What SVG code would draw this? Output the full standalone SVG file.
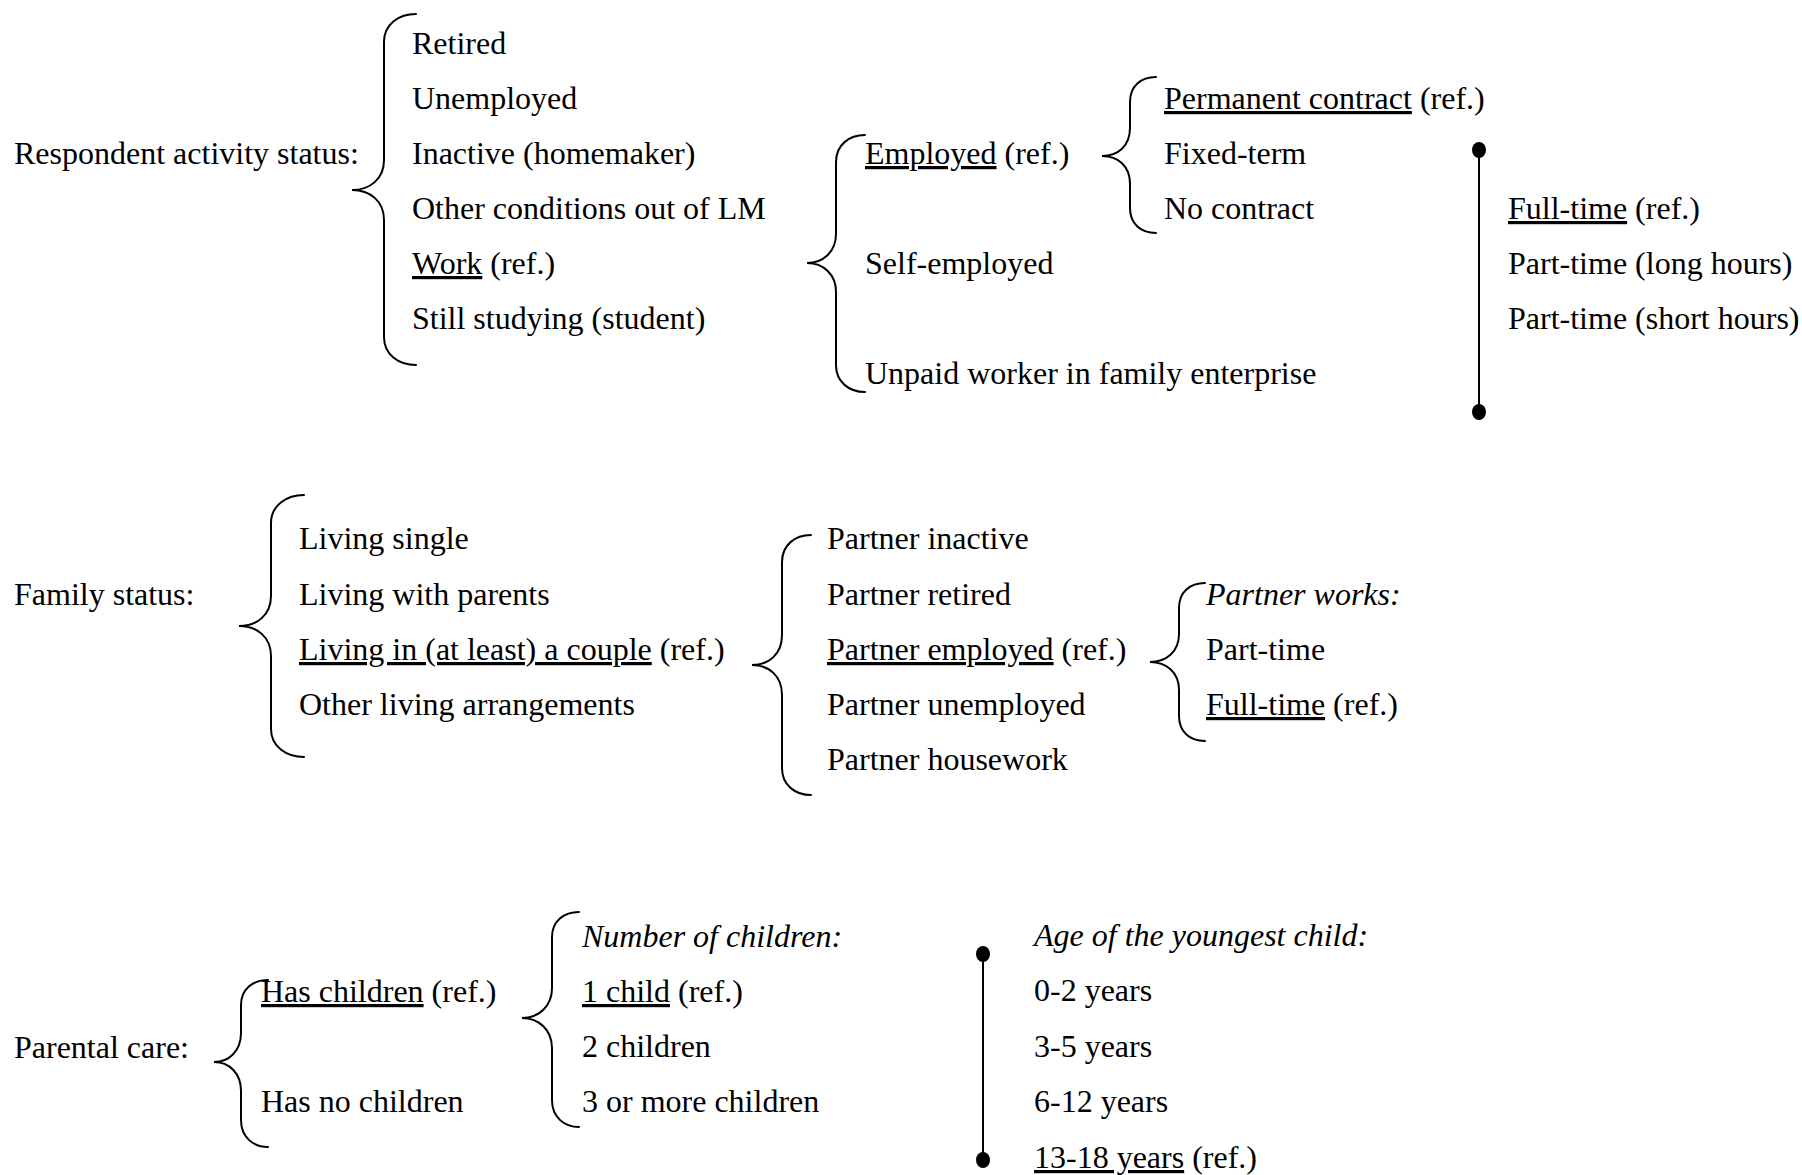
<svg xmlns="http://www.w3.org/2000/svg" width="1802" height="1175" viewBox="0 0 1802 1175">
<style>
text{font-family:"Liberation Serif","Times New Roman",serif;font-size:32px;fill:#000}
.i{font-style:italic}
.u{text-decoration:underline}
.br{fill:none;stroke:#000;stroke-width:2;stroke-linecap:round}
.ln{stroke:#000;stroke-width:2}
</style>
<rect width="1802" height="1175" fill="#fff"/>
<g id="connectors">
<path class="br" d="M416,14 C399,14 384,24 384,42 L384,160 C384,179 370,190 352,190 C370,190 384,201 384,220 L384,337 C384,355 399,365 416,365"/>
<path class="br" d="M865,135 C849,135 836,145 836,162 L836,234 C836,252 823,263 807,263 C823,263 836,274 836,292 L836,365 C836,382 849,392 865,392"/>
<path class="br" d="M1156,77 C1141,77 1130,86 1130,102 L1130,128 C1130,146 1118,156 1102,156 C1118,156 1130,166 1130,184 L1130,208 C1130,224 1141,233 1156,233"/>
<path class="br" d="M304,495 C287,495 271,505 271,523 L271,596 C271,615 257,626 239,626 C257,626 271,637 271,656 L271,729 C271,747 287,757 304,757"/>
<path class="br" d="M811,535 C795,535 782,545 782,562 L782,635 C782,654 769,665 752,665 C769,665 782,676 782,695 L782,768 C782,785 795,795 811,795"/>
<path class="br" d="M1205,583 C1190,583 1179,592 1179,608 L1179,634 C1179,652 1166,662 1150,662 C1166,662 1179,672 1179,690 L1179,716 C1179,732 1190,741 1205,741"/>
<path class="br" d="M268,980 C253,980 241,989 241,1005 L241,1033 C241,1051 229,1062 214,1062 C229,1062 241,1073 241,1091 L241,1120 C241,1137 253,1147 268,1147"/>
<path class="br" d="M579,912 C564,912 552,921 552,937 L552,988 C552,1006 539,1018 522,1018 C539,1018 552,1030 552,1048 L552,1100 C552,1117 564,1127 579,1127"/>
<line class="ln" x1="1479" y1="150" x2="1479" y2="412"/>
<ellipse cx="1479" cy="150" rx="7" ry="8"/>
<ellipse cx="1479" cy="412" rx="7" ry="8"/>
<line class="ln" x1="983" y1="954" x2="983" y2="1160"/>
<ellipse cx="983" cy="954" rx="7" ry="8"/>
<ellipse cx="983" cy="1160" rx="7" ry="8"/>
</g>
<g id="activity-label"><text x="14" y="164">Respondent activity status:</text></g>
<g id="activity-options">
<text x="412" y="54">Retired</text>
<text x="412" y="109">Unemployed</text>
<text x="412" y="164">Inactive (homemaker)</text>
<text x="412" y="219">Other conditions out of LM</text>
<text x="412" y="274"><tspan class="u">Work</tspan> (ref.)</text>
<text x="412" y="329">Still studying (student)</text>
</g>
<g id="work-types">
<text x="865" y="164"><tspan class="u">Employed</tspan> (ref.)</text>
<text x="865" y="274">Self-employed</text>
<text x="865" y="384">Unpaid worker in family enterprise</text>
</g>
<g id="contract-types">
<text x="1164" y="109"><tspan class="u">Permanent contract</tspan> (ref.)</text>
<text x="1164" y="164">Fixed-term</text>
<text x="1164" y="219">No contract</text>
</g>
<g id="hours">
<text x="1508" y="219"><tspan class="u">Full-time</tspan> (ref.)</text>
<text x="1508" y="274">Part-time (long hours)</text>
<text x="1508" y="329">Part-time (short hours)</text>
</g>
<g id="family-label"><text x="14" y="605">Family status:</text></g>
<g id="family-options">
<text x="299" y="549">Living single</text>
<text x="299" y="605">Living with parents</text>
<text x="299" y="660"><tspan class="u">Living in (at least) a couple</tspan> (ref.)</text>
<text x="299" y="715">Other living arrangements</text>
</g>
<g id="partner-status">
<text x="827" y="549">Partner inactive</text>
<text x="827" y="605">Partner retired</text>
<text x="827" y="660"><tspan class="u">Partner employed</tspan> (ref.)</text>
<text x="827" y="715">Partner unemployed</text>
<text x="827" y="770">Partner housework</text>
</g>
<g id="partner-works">
<text class="i" x="1206" y="605">Partner works:</text>
<text x="1206" y="660">Part-time</text>
<text x="1206" y="715"><tspan class="u">Full-time</tspan> (ref.)</text>
</g>
<g id="parental-label"><text x="14" y="1058">Parental care:</text></g>
<g id="parental-options">
<text x="261" y="1002"><tspan class="u">Has children</tspan> (ref.)</text>
<text x="261" y="1112">Has no children</text>
</g>
<g id="number-children">
<text class="i" x="582" y="947">Number of children:</text>
<text x="582" y="1002"><tspan class="u">1 child</tspan> (ref.)</text>
<text x="582" y="1057">2 children</text>
<text x="582" y="1112">3 or more children</text>
</g>
<g id="age-youngest">
<text class="i" x="1034" y="946">Age of the youngest child:</text>
<text x="1034" y="1001">0-2 years</text>
<text x="1034" y="1057">3-5 years</text>
<text x="1034" y="1112">6-12 years</text>
<text x="1034" y="1168"><tspan class="u">13-18 years</tspan> (ref.)</text>
</g>
</svg>
